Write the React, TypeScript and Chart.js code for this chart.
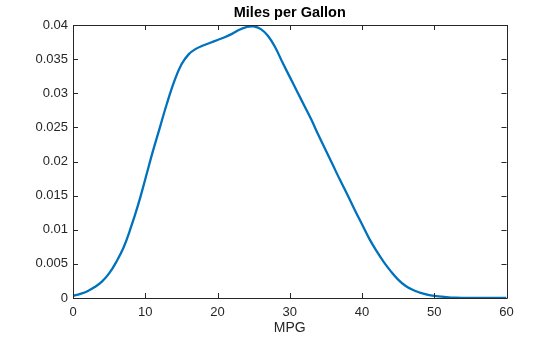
import React, { useEffect, useRef } from "react";
import { Chart, registerables } from "chart.js";

Chart.register(...registerables);

const chartTitle = "Miles per Gallon";
const xAxisLabel = "MPG";
const mpgValues = [
  0, 1, 2, 3, 4, 5, 6, 7, 8, 9, 10, 11, 12, 13, 14, 15, 16, 17, 18, 19, 20,
  21, 22, 23, 24, 25, 26, 27, 28, 29, 30, 31, 32, 33, 34, 35, 36, 37, 38, 39,
  40, 41, 42, 43, 44, 45, 46, 47, 48, 49, 50, 51, 52, 53, 54, 55, 56, 57, 58,
  59, 60,
];
const densityValues = [
  0.0003, 0.0006, 0.001, 0.0016, 0.0024, 0.0036, 0.0053, 0.0074, 0.0103,
  0.0136, 0.0174, 0.0213, 0.0249, 0.0285, 0.0317, 0.0342, 0.0357, 0.0365,
  0.037, 0.0374, 0.0378, 0.0382, 0.0387, 0.0393, 0.0397, 0.0398, 0.0394,
  0.0384, 0.0367, 0.0345, 0.0324, 0.0303, 0.0282, 0.0261, 0.0238, 0.0216,
  0.0194, 0.0172, 0.0151, 0.0129, 0.0108, 0.0087, 0.0069, 0.0053, 0.0039,
  0.0027, 0.0018, 0.0012, 0.0008, 0.0005, 0.0003, 0.0002, 0.0001, 0.00005,
  0.00002, 0, 0, 0, 0, 0, 0,
];
const xTicks = [0, 10, 20, 30, 40, 50, 60];
const yTicks = [0, 0.005, 0.01, 0.015, 0.02, 0.025, 0.03, 0.035, 0.04];

const FONT = "'Liberation Sans', Arial, Helvetica, sans-serif";
const AXIS_COLOR = "#262626";

const framePlugin = {
  id: "matlabFrame",
  afterDraw(chart: any) {
    const { ctx, chartArea } = chart;
    const { left, right, top, bottom } = chartArea;
    const xs = chart.scales.x;
    const ys = chart.scales.y;
    ctx.save();
    ctx.strokeStyle = AXIS_COLOR;
    ctx.lineWidth = 1;
    ctx.beginPath();
    ctx.rect(Math.round(left) + 0.5, Math.round(top) + 0.5, Math.round(right - left), Math.round(bottom - top));
    ctx.stroke();
    const tl = 5;
    ctx.beginPath();
    xTicks.forEach((v) => {
      const px = Math.round(xs.getPixelForValue(v)) + 0.5;
      ctx.moveTo(px, bottom);
      ctx.lineTo(px, bottom - tl);
      ctx.moveTo(px, top);
      ctx.lineTo(px, top + tl);
    });
    yTicks.forEach((v) => {
      const py = Math.round(ys.getPixelForValue(v)) + 0.5;
      ctx.moveTo(left, py);
      ctx.lineTo(left + tl, py);
      ctx.moveTo(right, py);
      ctx.lineTo(right - tl, py);
    });
    ctx.stroke();
    ctx.fillStyle = "#000000";
    ctx.font = `bold 14.5px ${FONT}`;
    ctx.textAlign = "center";
    ctx.textBaseline = "middle";
    ctx.fillText(chartTitle, (left + right) / 2, 13);
    ctx.restore();
  },
};

export default function App() {
  const canvasRef = useRef<HTMLCanvasElement | null>(null);

  useEffect(() => {
    document.body.style.margin = "0";
    const canvas = canvasRef.current;
    if (!canvas) return;
    const chart = new Chart(canvas, {
      type: "line",
      data: {
        datasets: [
          {
            label: chartTitle,
            data: mpgValues.map((x, i) => ({ x, y: densityValues[i] })),
            borderColor: "#0072BD",
            borderWidth: 2.3,
            pointRadius: 0,
            fill: false,
            tension: 0.4,
          },
        ],
      },
      options: {
        animation: false,
        responsive: false,
        maintainAspectRatio: false,
        layout: { padding: { left: 0, top: 25, right: 53.5, bottom: 0 } },
        plugins: {
          legend: { display: false },
          tooltip: { enabled: false },
          title: { display: false },
        },
        scales: {
          x: {
            type: "linear",
            min: 0,
            max: 60,
            afterBuildTicks: (s: any) => {
              s.ticks = xTicks.map((v) => ({ value: v }));
            },
            afterFit: (s: any) => {
              s.height = 39;
            },
            grid: { display: false, drawTicks: false },
            border: { display: false },
            ticks: {
              padding: 7,
              color: AXIS_COLOR,
              font: { family: FONT, size: 13 },
              maxRotation: 0,
            },
            title: {
              display: true,
              text: xAxisLabel,
              color: AXIS_COLOR,
              font: { family: FONT, size: 14 },
              padding: { top: 2, bottom: 0 },
            },
          },
          y: {
            type: "linear",
            min: 0,
            max: 0.04,
            afterBuildTicks: (s: any) => {
              s.ticks = yTicks.map((v) => ({ value: v }));
            },
            afterFit: (s: any) => {
              s.width = 73;
            },
            grid: { display: false, drawTicks: false },
            border: { display: false },
            ticks: {
              padding: 5,
              color: AXIS_COLOR,
              font: { family: FONT, size: 13 },
              callback: (v: any) => String(+Number(v).toFixed(3)),
            },
          },
        },
      },
      plugins: [framePlugin],
    });
    return () => chart.destroy();
  }, []);

  return (
    <div style={{ width: 560, height: 337 }}>
      <canvas ref={canvasRef} width={560} height={337} style={{ display: "block" }} />
    </div>
  );
}
